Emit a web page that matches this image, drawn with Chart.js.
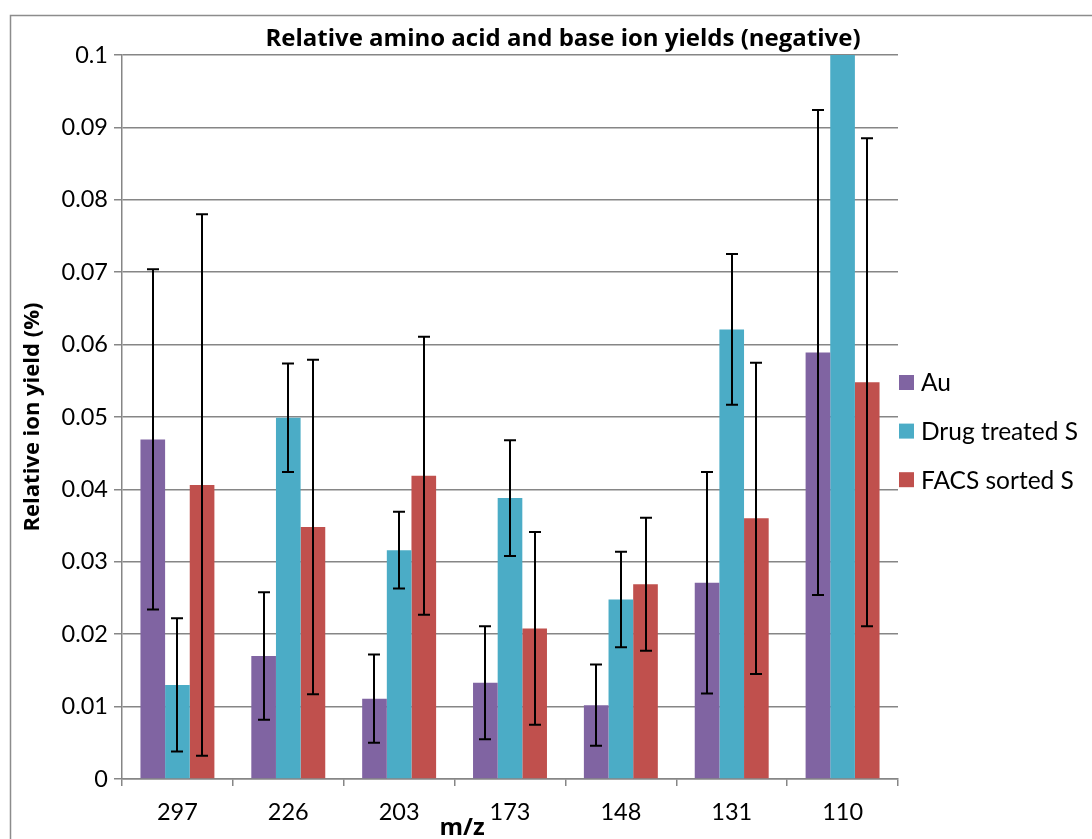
<!DOCTYPE html>
<html>
<head>
<meta charset="utf-8">
<script src="https://cdn.jsdelivr.net/npm/chart.js@4.4.1/dist/chart.umd.min.js"></script>
<style>
  html, body { margin: 0; padding: 0; background: #ffffff; }
  #wrap { position: relative; width: 1092px; height: 839px; }
  canvas { display: block; }
</style>
</head>
<body>
<div id="wrap"><canvas id="c" width="1092" height="839"></canvas></div>
<script>
// m/z categories
const categories = ['297', '226', '203', '173', '148', '131', '110'];

// relative ion yields and their error half-widths
const auValues      = [0.0469, 0.0170, 0.0111, 0.0133, 0.0102, 0.0271, 0.0589];
const auErrors      = [0.0235, 0.0088, 0.0061, 0.0078, 0.0056, 0.0153, 0.0335];
const drugValues    = [0.0130, 0.0499, 0.0316, 0.0388, 0.0248, 0.0621, 0.1300];
const drugErrors    = [0.0092, 0.0075, 0.0053, 0.0080, 0.0066, 0.0104, 0.0250];
const facsValues    = [0.0406, 0.0348, 0.0419, 0.0208, 0.0269, 0.0360, 0.0548];
const facsErrors    = [0.0374, 0.0231, 0.0192, 0.0133, 0.0092, 0.0215, 0.0337];

const seriesNames = ['Au', 'Drug treated S', 'FACS sorted S'];
const seriesColors = ['#8064A2', '#4BACC6', '#C0504D'];
const yTicks = [0, 0.01, 0.02, 0.03, 0.04, 0.05, 0.06, 0.07, 0.08, 0.09, 0.1];

const FONT = 'Lato, "Open Sans", "Noto Sans", sans-serif';
const BOLD_FONT = '"Open Sans", Lato, "Noto Sans", sans-serif';
const GRID = '#868686';

// draws symmetric error bars on each bar, clipped to the plot area
const errorBars = {
  id: 'errorBars',
  afterDatasetsDraw(chart) {
    const { ctx, chartArea, scales } = chart;
    ctx.save();
    ctx.beginPath();
    ctx.rect(chartArea.left, chartArea.top, chartArea.right - chartArea.left, chartArea.bottom - chartArea.top);
    ctx.clip();
    ctx.strokeStyle = '#000000';
    ctx.lineWidth = 2;
    chart.data.datasets.forEach((ds, di) => {
      const meta = chart.getDatasetMeta(di);
      meta.data.forEach((bar, i) => {
        const v = ds.data[i], e = ds.errors[i];
        const yHi = scales.y.getPixelForValue(v + e);
        const yLo = scales.y.getPixelForValue(v - e);
        const x = Math.round(bar.x);
        ctx.beginPath();
        ctx.moveTo(x, yHi); ctx.lineTo(x, yLo);
        ctx.moveTo(x - 6, yHi); ctx.lineTo(x + 6, yHi);
        ctx.moveTo(x - 6, yLo); ctx.lineTo(x + 6, yLo);
        ctx.stroke();
      });
    });
    ctx.restore();
  }
};

// legend to the right of the plot, one swatch per dataset
const sideLegend = {
  id: 'sideLegend',
  afterDraw(chart) {
    const { ctx, chartArea } = chart;
    ctx.save();
    ctx.font = '24.5px ' + FONT;
    ctx.textAlign = 'left';
    ctx.textBaseline = 'middle';
    const x0 = chartArea.right + 1;
    chart.data.datasets.forEach((ds, i) => {
      const yc = 382.5 + i * 48.6;
      ctx.fillStyle = ds.backgroundColor;
      ctx.fillRect(x0, yc - 7.5, 15, 15);
      ctx.fillStyle = '#000000';
      ctx.fillText(ds.label, x0 + 22, yc + 1);
    });
    ctx.restore();
  }
};

// chart title, axis titles and the outer frame
const decorations = {
  id: 'decorations',
  afterDraw(chart) {
    const { ctx } = chart;
    ctx.save();
    ctx.strokeStyle = '#8c8c8c';
    ctx.lineWidth = 1.5;
    ctx.strokeRect(10.5, 15.5, 1200, 900);

    ctx.fillStyle = '#000000';
    ctx.textAlign = 'center';
    ctx.textBaseline = 'middle';
    ctx.font = 'bold 24px ' + BOLD_FONT;
    ctx.fillText('Relative amino acid and base ion yields (negative)', 563, 39);

    ctx.textBaseline = 'alphabetic';
    ctx.font = 'bold 24px ' + BOLD_FONT;
    ctx.fillText('m/z', 462, 835);

    ctx.textBaseline = 'middle';
    ctx.font = 'bold 22px ' + BOLD_FONT;
    ctx.translate(33, 417);
    ctx.rotate(-Math.PI / 2);
    ctx.fillText('Relative ion yield (%)', 0, 0);
    ctx.restore();
  }
};

new Chart(document.getElementById('c'), {
  type: 'bar',
  data: {
    labels: categories,
    datasets: [
      { label: seriesNames[0], data: auValues,   errors: auErrors,   backgroundColor: seriesColors[0] },
      { label: seriesNames[1], data: drugValues, errors: drugErrors, backgroundColor: seriesColors[1] },
      { label: seriesNames[2], data: facsValues, errors: facsErrors, backgroundColor: seriesColors[2] }
    ]
  },
  plugins: [errorBars, sideLegend, decorations],
  options: {
    responsive: false,
    animation: false,
    layout: { padding: { top: 55, left: 0, right: 194, bottom: 0 } },
    datasets: { bar: { categoryPercentage: 0.667, barPercentage: 1.0, borderWidth: 0 } },
    plugins: {
      title: { display: false },
      tooltip: { enabled: false },
      legend: { display: false }
    },
    scales: {
      x: {
        grid: { drawOnChartArea: false, drawTicks: true, tickLength: 7, color: GRID, lineWidth: 1.5, offset: true },
        border: { color: GRID, width: 1.5 },
        ticks: { font: { family: FONT, size: 23.5 }, color: '#000000', padding: 12 },
        afterFit(scale) { scale.height = 60; }
      },
      y: {
        min: 0,
        max: 0.1,
        afterBuildTicks(scale) { scale.ticks = yTicks.map(v => ({ value: v })); },
        grid: { color: GRID, lineWidth: 1.5, tickLength: 8, drawTicks: true },
        border: { color: GRID, width: 1.5 },
        ticks: {
          font: { family: FONT, size: 23.5 },
          color: '#000000',
          padding: 6,
          callback: v => String(Math.round(v * 100) / 100)
        },
        afterFit(scale) { scale.width = 122; }
      }
    }
  }
});
</script>
</body>
</html>
